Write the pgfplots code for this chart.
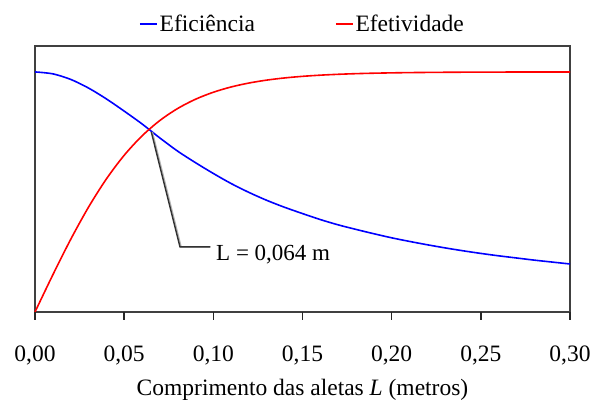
\documentclass[border=0pt]{standalone}
\usepackage{pgfplots}
\pgfplotsset{compat=1.18}
\usepackage{fontspec}
\setmainfont{Liberation Serif}
\begin{document}
\begin{tikzpicture}
\path[use as bounding box] (-35pt,-89pt) rectangle (556pt,312pt);
\begin{axis}[
  scale only axis, width=535pt, height=266pt,
  at={(0pt,0pt)}, anchor=south west,
  xmin=0, xmax=0.30, ymin=0, ymax=1.108,
  axis line style={draw=black!75, line width=1.6pt},
  xtick={0,0.05,0.10,0.15,0.20,0.25,0.30},
  ytick=\empty,
  major tick length=0pt,
  xticklabel style={font=\fontsize{23.5}{26}\selectfont, anchor=base, yshift=-49pt},
  /pgf/number format/.cd, assume math mode=true, fixed, fixed zerofill, precision=2, use comma,
  /pgfplots/.cd,
  xlabel={Comprimento das aletas \textit{L} (metros)},
  xlabel style={font=\fontsize{23.5}{26}\selectfont, at={(axis description cs:0.5,0)}, anchor=base, yshift=-83pt},
  legend style={at={(0.5,1.0)}, anchor=center, draw=none, fill=none, yshift=22pt,
    font=\fontsize{23.5}{26}\selectfont, legend columns=2,
    /tikz/every even column/.append style={column sep=78pt}},
  legend image code/.code={\draw[#1, line width=1.6pt] (0pt,0pt) -- (17pt,0pt);},
  clip=false,
]
\addplot[blue, line width=1.6pt, smooth] coordinates {
(0,1.0) (0.01,0.9920) (0.02,0.9689) (0.03,0.9329) (0.04,0.8877) (0.05,0.8368)
(0.06,0.7835) (0.07,0.725) (0.08,0.670) (0.09,0.622) (0.10,0.577)
(0.11,0.535) (0.12,0.498) (0.13,0.465) (0.14,0.436) (0.15,0.410)
(0.16,0.385) (0.17,0.363) (0.18,0.344) (0.19,0.326) (0.20,0.309)
(0.21,0.294) (0.22,0.280) (0.23,0.267) (0.24,0.255) (0.25,0.244)
(0.26,0.234) (0.27,0.225) (0.28,0.216) (0.29,0.208) (0.30,0.200)
};
\addlegendentry{Eficiência}
\addplot[red, line width=1.6pt, smooth] coordinates {
(0,0) (0.01,0.1548) (0.02,0.3023) (0.03,0.4366) (0.04,0.5539) (0.05,0.6527)
(0.06,0.7334) (0.07,0.7976) (0.08,0.8477) (0.09,0.8862) (0.10,0.9154)
(0.11,0.9374) (0.12,0.9538) (0.13,0.9660) (0.14,0.9750) (0.15,0.9816)
(0.16,0.9865) (0.17,0.9901) (0.18,0.9928) (0.19,0.9947) (0.20,0.9961)
(0.21,0.9972) (0.22,0.9979) (0.23,0.9985) (0.24,0.9989) (0.25,0.9992)
(0.26,0.9994) (0.27,0.9996) (0.28,0.9997) (0.29,0.9998) (0.30,0.9998)
};
\addlegendentry{Efetividade}
\pgfplotsinvokeforeach{0,0.05,0.10,0.15,0.20,0.25,0.30}{
  \draw[black!85, line width=1.4pt] (axis cs:#1,0) -- ++(0pt,-8pt);
}
\draw[black!30, line width=1.6pt, xshift=1pt] (axis cs:0.0652,0.750) -- (axis cs:0.0813,0.271) -- (axis cs:0.098,0.271);
\draw[black!80, line width=1.4pt] (axis cs:0.0652,0.750) -- (axis cs:0.0813,0.271) -- (axis cs:0.098,0.271);
\node[anchor=west, font=\fontsize{23}{26}\selectfont, inner sep=0pt] at (axis cs:0.1015,0.24) {L = 0,064 m};
\end{axis}
\end{tikzpicture}
\end{document}
